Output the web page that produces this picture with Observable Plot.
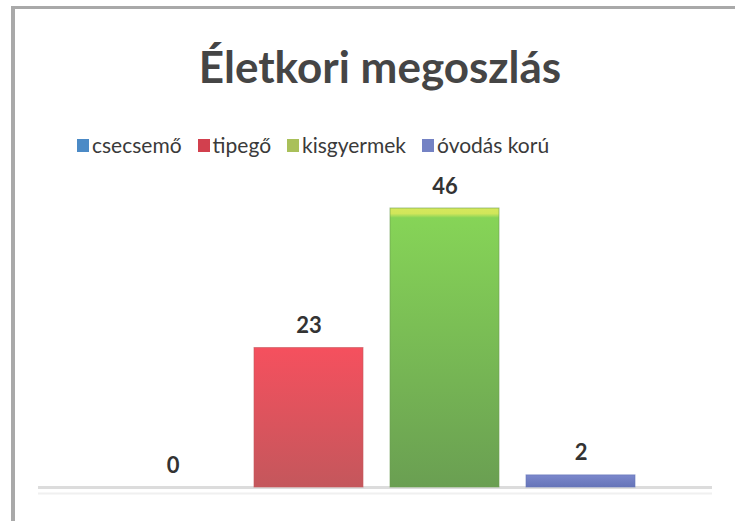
<!DOCTYPE html>
<html>
<head>
<meta charset="utf-8">
<script src="https://cdn.jsdelivr.net/npm/d3@7"></script>
<script src="https://cdn.jsdelivr.net/npm/@observablehq/plot@0.6"></script>
<style>
  html, body { margin: 0; padding: 0; background: #fff; }
  #wrap { position: relative; width: 735px; height: 521px; overflow: hidden; font-family: Lato, "Open Sans", sans-serif; }
  #bl { position: absolute; left: 11px; top: 6px; width: 4px; height: 515px; background: #a9a9a9; }
  #bt { position: absolute; left: 11px; top: 6px; width: 724px; height: 3px; background: #a9a9a9; }
  #title { position: absolute; left: 0; width: 760px; top: 38px; text-align: center; font-size: 44px; font-weight: 700; color: #454545; line-height: 56px; }
  #legend { position: absolute; left: 77px; top: 131px; display: flex; gap: 16px; font-size: 21px; color: #3a3a3a; line-height: 28px; }
  #legend span.item { display: flex; align-items: center; }
  #legend i { display: inline-block; width: 12px; height: 13px; margin-right: 3px; }
  #chart { position: absolute; left: 0; top: 165px; }
</style>
</head>
<body>
<div id="wrap">
  <div id="bl"></div><div id="bt"></div>
  <div id="title">Életkori megoszlás</div>
  <div id="legend"></div>
  <div id="chart"></div>
</div>
<script>
const categories = ["csecsemő", "tipegő", "kisgyermek", "óvodás korú"];
const values = [0, 23, 46, 2];
const swatchColors = ["#4b8ac6", "#d2404e", "#a9c05a", "#7482c4"];
const gradTop = ["#5a9ad6", "#f5505e", "#86d457", "#7b88cc"];
const gradBottom = ["#3f78b0", "#c4575c", "#6a9f52", "#6674b8"];

const data = categories.map((c, i) => ({category: c, value: values[i], idx: i}));

const legend = document.getElementById("legend");
categories.forEach((c, i) => {
  const s = document.createElement("span");
  s.className = "item";
  s.innerHTML = `<i style="background:${swatchColors[i]}"></i>${c}`;
  legend.appendChild(s);
});

const plot = Plot.plot({
  width: 735,
  height: 350,
  marginLeft: 38,
  marginRight: 23,
  marginTop: 43,
  marginBottom: 28,
  x: {domain: categories, range: [104, 648], paddingInner: 0.2, paddingOuter: 0.1, axis: null},
  y: {domain: [0, 46], axis: null},
  style: {fontFamily: "Lato, 'Open Sans', sans-serif", background: "transparent"},
  marks: [
    Plot.ruleY([0], {stroke: "#dcdcdc", strokeWidth: 3}),
    Plot.ruleY([0], {stroke: "#f0f0f0", strokeWidth: 2, dy: 6}),
    Plot.barY(data, {x: "category", y: "value", fill: d => `url(#g${d.idx})`, stroke: d => gradBottom[d.idx], strokeOpacity: 0.6, strokeWidth: 1}),
    Plot.text(data, {x: "category", y: "value", text: d => String(d.value), dy: -22, lineAnchor: "middle", fontSize: 22, fontWeight: 700, fill: "#333"})
  ]
});

const ns = "http://www.w3.org/2000/svg";
const defs = document.createElementNS(ns, "defs");
categories.forEach((c, i) => {
  const g = document.createElementNS(ns, "linearGradient");
  g.setAttribute("id", "g" + i);
  g.setAttribute("x1", "0"); g.setAttribute("y1", "0");
  g.setAttribute("x2", "0"); g.setAttribute("y2", "1");
  const stops = i === 2
    ? [[0, "#d6e85c"], [0.02, "#d0e65a"], [0.035, "#86d457"], [1, gradBottom[i]]]
    : [[0, gradTop[i]], [1, gradBottom[i]]];
  stops.forEach(([o, col]) => {
    const s = document.createElementNS(ns, "stop");
    s.setAttribute("offset", o);
    s.setAttribute("stop-color", col);
    g.appendChild(s);
  });
  defs.appendChild(g);
});
plot.insertBefore(defs, plot.firstChild);
document.getElementById("chart").appendChild(plot);
</script>
</body>
</html>
